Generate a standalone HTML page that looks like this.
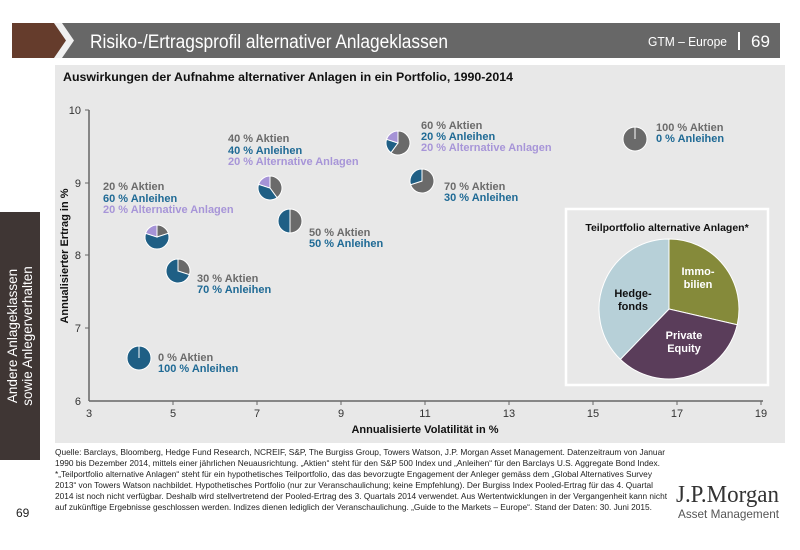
<!DOCTYPE html>
<html><head><meta charset="utf-8"><style>
body{margin:0;width:800px;height:550px;background:#fff;overflow:hidden;position:relative;font-family:"Liberation Sans",sans-serif}
.abs{position:absolute}
</style></head><body>
<svg class="abs" style="left:0;top:0" width="800" height="550" viewBox="0 0 800 550">
<rect x="42" y="23" width="738" height="35" fill="#676767"/>
<polygon points="12,23 54,23 66,40.5 54,58 12,58" fill="#653c2c"/>
<polygon points="54,23 62,23 74,40.5 62,58 54,58 66,40.5" fill="#fff" opacity="0.9"/>
<text x="90" y="48" font-family="Liberation Sans Narrow, Liberation Sans, sans-serif" font-size="19" fill="#fff" textLength="358" lengthAdjust="spacingAndGlyphs">Risiko-/Ertragsprofil alternativer Anlageklassen</text>
<text x="648" y="46" font-size="13" fill="#fff" textLength="79" lengthAdjust="spacingAndGlyphs">GTM – Europe</text>
<rect x="738" y="32" width="2" height="18" fill="#fff"/>
<text x="751" y="47" font-size="17" fill="#fff">69</text>
<rect x="55" y="65" width="730" height="378" fill="#e8e8e8"/>
<text x="63" y="81" font-size="12" font-weight="bold" fill="#111" textLength="450" lengthAdjust="spacingAndGlyphs">Auswirkungen der Aufnahme alternativer Anlagen in ein Portfolio, 1990-2014</text>
<rect x="0" y="212" width="40" height="248" fill="#3f3634"/>
<text transform="translate(17,336) rotate(-90)" text-anchor="middle" font-size="13.5" fill="#fff">Andere Anlageklassen</text>
<text transform="translate(32,336) rotate(-90)" text-anchor="middle" font-size="13.5" fill="#fff">sowie Anlegerverhalten</text>
<g stroke="#666" stroke-width="1.5" fill="none">
<line x1="89" y1="110" x2="89" y2="401"/><line x1="89" y1="401" x2="763" y2="401"/>
</g>
<g stroke="#666" stroke-width="1">
<line x1="85" y1="110" x2="89" y2="110"/><line x1="85" y1="183" x2="89" y2="183"/><line x1="85" y1="255" x2="89" y2="255"/><line x1="85" y1="328" x2="89" y2="328"/>
<line x1="173" y1="401" x2="173" y2="405"/><line x1="257" y1="401" x2="257" y2="405"/><line x1="341" y1="401" x2="341" y2="405"/><line x1="425" y1="401" x2="425" y2="405"/><line x1="509" y1="401" x2="509" y2="405"/><line x1="593" y1="401" x2="593" y2="405"/><line x1="677" y1="401" x2="677" y2="405"/><line x1="761" y1="401" x2="761" y2="405"/>
</g>
<g font-size="11" fill="#333" text-anchor="end">
<text x="81" y="114">10</text><text x="81" y="187">9</text><text x="81" y="259">8</text><text x="81" y="332">7</text><text x="81" y="405">6</text>
</g>
<g font-size="11" fill="#333" text-anchor="middle">
<text x="89" y="417">3</text><text x="173" y="417">5</text><text x="257" y="417">7</text><text x="341" y="417">9</text><text x="425" y="417">11</text><text x="509" y="417">13</text><text x="593" y="417">15</text><text x="677" y="417">17</text><text x="761" y="417">19</text>
</g>
<text x="425" y="433" text-anchor="middle" font-size="11" font-weight="bold" fill="#111">Annualisierte Volatilität in %</text>
<text transform="translate(68,256) rotate(-90)" text-anchor="middle" font-size="11" font-weight="bold" fill="#111">Annualisierter Ertrag in %</text>
<g id="pies"></g>
<g font-size="11" font-weight="bold">
<g fill="#6b6b6b">
<text x="158" y="361">0 % Aktien</text><text x="197" y="282">30 % Aktien</text><text x="103" y="190">20 % Aktien</text><text x="228" y="142">40 % Aktien</text><text x="309" y="236">50 % Aktien</text><text x="421" y="129">60 % Aktien</text><text x="444" y="190">70 % Aktien</text><text x="656" y="131">100 % Aktien</text>
</g>
<g fill="#1f6a95">
<text x="158" y="372">100 % Anleihen</text><text x="197" y="293">70 % Anleihen</text><text x="103" y="202">60 % Anleihen</text><text x="228" y="154">40 % Anleihen</text><text x="309" y="247">50 % Anleihen</text><text x="421" y="140">20 % Anleihen</text><text x="444" y="201">30 % Anleihen</text><text x="656" y="142">0 % Anleihen</text>
</g>
<g fill="#a795d8">
<text x="103" y="213">20 % Alternative Anlagen</text><text x="228" y="165">20 % Alternative Anlagen</text><text x="421" y="151">20 % Alternative Anlagen</text>
</g>
</g>
<rect x="566" y="209" width="202" height="176" fill="#e8e8e8" stroke="#fff" stroke-width="2.5"/>
<text x="667" y="231" text-anchor="middle" font-size="10.5" font-weight="bold" fill="#111">Teilportfolio alternative Anlagen*</text>
<g id="big"></g>
<g font-size="11" font-weight="bold" text-anchor="middle">
<text x="698" y="275" fill="#fff">Immo-</text><text x="698" y="288" fill="#fff">bilien</text>
<text x="633" y="297" fill="#111">Hedge-</text><text x="633" y="310" fill="#111">fonds</text>
<text x="684" y="339" fill="#fff">Private</text><text x="684" y="352" fill="#fff">Equity</text>
</g>
<g font-size="8.6" fill="#222">
<text x="55" y="455" textLength="610" lengthAdjust="spacingAndGlyphs">Quelle: Barclays, Bloomberg, Hedge Fund Research, NCREIF, S&amp;P, The Burgiss Group, Towers Watson, J.P. Morgan Asset Management. Datenzeitraum von Januar</text>
<text x="55" y="466" textLength="605" lengthAdjust="spacingAndGlyphs">1990 bis Dezember 2014, mittels einer jährlichen Neuausrichtung. „Aktien“ steht für den S&amp;P 500 Index und „Anleihen“ für den Barclays U.S. Aggregate Bond Index.</text>
<text x="55" y="477" textLength="597" lengthAdjust="spacingAndGlyphs">*„Teilportfolio alternative Anlagen“ steht für ein hypothetisches Teilportfolio, das das bevorzugte Engagement der Anleger gemäss dem „Global Alternatives Survey</text>
<text x="55" y="488" textLength="598" lengthAdjust="spacingAndGlyphs">2013“ von Towers Watson nachbildet. Hypothetisches Portfolio (nur zur Veranschaulichung; keine Empfehlung). Der Burgiss Index Pooled-Ertrag für das 4. Quartal</text>
<text x="55" y="499" textLength="612" lengthAdjust="spacingAndGlyphs">2014 ist noch nicht verfügbar. Deshalb wird stellvertretend der Pooled-Ertrag des 3. Quartals 2014 verwendet. Aus Wertentwicklungen in der Vergangenheit kann nicht</text>
<text x="55" y="510" textLength="597" lengthAdjust="spacingAndGlyphs">auf zukünftige Ergebnisse geschlossen werden. Indizes dienen lediglich der Veranschaulichung. „Guide to the Markets – Europe“. Stand der Daten: 30. Juni 2015.</text>
</g>
<text x="16" y="517" font-size="12" fill="#222">69</text>
<text x="676" y="502" font-family="Liberation Serif,serif" font-size="24" fill="#333" textLength="103" lengthAdjust="spacingAndGlyphs">J.P.Morgan</text>
<text x="678" y="518" font-size="12" fill="#555" textLength="101" lengthAdjust="spacingAndGlyphs">Asset Management</text>
</svg>
<script>
function slice(cx,cy,r,a0,a1,col){
 if(a1-a0>=360){return '<circle cx="'+cx+'" cy="'+cy+'" r="'+r+'" fill="'+col+'" stroke="#fff" stroke-width="1"/>';}
 var t0=(a0-90)*Math.PI/180,t1=(a1-90)*Math.PI/180;
 var x0=cx+r*Math.cos(t0),y0=cy+r*Math.sin(t0),x1=cx+r*Math.cos(t1),y1=cy+r*Math.sin(t1);
 return '<path d="M'+cx+','+cy+'L'+x0+','+y0+'A'+r+','+r+' 0 '+((a1-a0)>180?1:0)+' 1 '+x1+','+y1+'Z" fill="'+col+'" stroke="#fff" stroke-width="1"/>';
}
var G='#6a6a6a',B='#1f5f85',P='#a593d6';
var pies=[[139,358,[0,100,0]],[178,271,[30,70,0]],[157,237,[20,60,20]],[270,188,[40,40,20]],[290,221,[50,50,0]],[398,143,[60,20,20]],[422,181,[70,30,0]],[635,139,[100,0,0]]];
var s='';
pies.forEach(function(p){var a=0,cols=[G,B,P];p[2].forEach(function(v,i){if(v>0){var b=a+v*3.6;s+=slice(p[0],p[1],12,a,b,cols[i]);a=b;}});
 if(p[2][0]==0||p[2][1]==0)s+='<line x1="'+p[0]+'" y1="'+(p[1]-12)+'" x2="'+p[0]+'" y2="'+p[1]+'" stroke="#fff" stroke-width="1"/>';});
document.getElementById('pies').innerHTML=s;
var b='';b+=slice(669,309,70,0,103,'#858a3a');b+=slice(669,309,70,103,224,'#5a3d5a');b+=slice(669,309,70,224,360,'#b7d0d8');
document.getElementById('big').innerHTML=b;
</script>
</body></html>
